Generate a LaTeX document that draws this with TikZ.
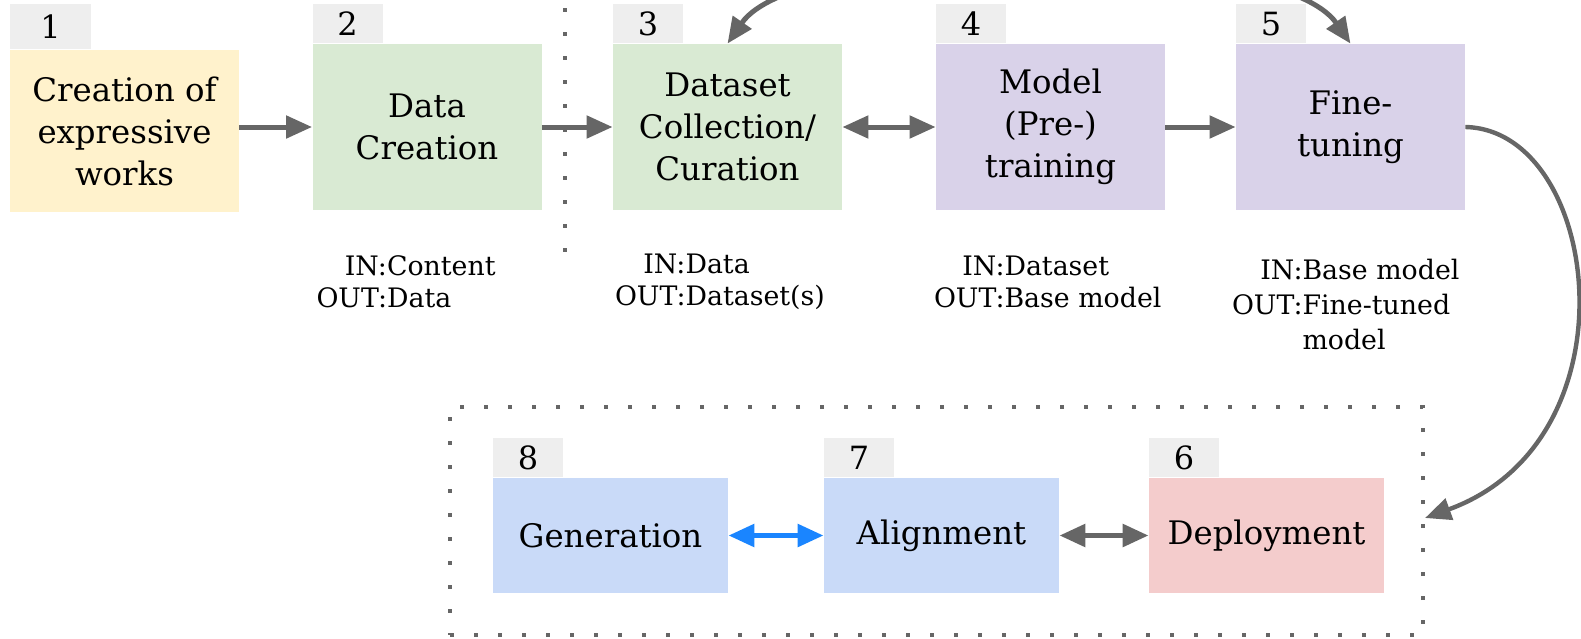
\documentclass[tikz,border=0pt]{standalone}
\usepackage{fontspec}
\setmainfont{DejaVu Serif}
\usetikzlibrary{arrows.meta}

\definecolor{cyellow}{HTML}{FFF2CC}
\definecolor{cgreen}{HTML}{D9EAD3}
\definecolor{cpurple}{HTML}{D9D2E9}
\definecolor{cblue}{HTML}{C9DAF8}
\definecolor{cred}{HTML}{F4CCCC}
\definecolor{ctab}{HTML}{EEEEEE}
\definecolor{cgray}{HTML}{666666}
\definecolor{cbright}{HTML}{1A85FF}

\begin{document}
\begin{tikzpicture}[x=0.5pt, y=-0.5pt,
    stagebox/.style={inner sep=0pt, minimum width=114.5pt, minimum height=83pt, align=center, font=\fontsize{16.2}{21}\selectfont},
    lowbox/.style={stagebox, minimum width=117.5pt, minimum height=57.5pt},
    numtab/.style={fill=ctab, inner sep=0pt, minimum width=35pt, minimum height=19.5pt, anchor=south west, font=\fontsize{16}{19}\selectfont},
    iotext/.style={inner sep=0pt, anchor=north west, font=\fontsize{13.4}{16}\selectfont},
    tip/.tip={Triangle[length=13pt, width=11pt]},
    flow/.style={color=cgray, line width=2.5pt, -tip},
    dotline/.style={draw=cgray, line width=2pt, dash pattern=on 2pt off 10pt}]
    \path[use as bounding box, clip] (0,0) rectangle (1581,638);

    % Upper row
    \node[stagebox, fill=cyellow, minimum height=81pt] (creation) at (124.5,131) {Creation of\\expressive\\works};
    \node[stagebox, fill=cgreen] (datacre) at (427,127) {Data\\Creation};
    \node[stagebox, fill=cgreen] (curation) at (727.5,127) {Dataset\\Collection/\\Curation};
    \node[stagebox, fill=cpurple] (pretrain) at (1050.5,127) {Model\\(Pre-)\\training};
    \node[stagebox, fill=cpurple] (finetune) at (1350.5,127) {Fine-\\tuning};

    % Number tabs
    \node[numtab, minimum width=40.5pt, minimum height=22.5pt] (t1) at (creation.north west) {1};
    \node[numtab] (t2) at (datacre.north west) {2};
    \node[numtab] (t3) at (curation.north west) {3};
    \node[numtab] (t4) at (pretrain.north west) {4};
    \node[numtab] (t5) at (finetune.north west) {5};

    % Inputs and outputs
    \node[iotext] (io2) at ([xshift=2pt, yshift=-21pt]datacre.south west)
        {\begin{tabular}{@{}r@{}l@{}}IN:&Content\\OUT:&Data\end{tabular}};
    \node[iotext] (io3) at ([xshift=1pt, yshift=-20pt]curation.south west)
        {\begin{tabular}{@{}r@{}l@{}}IN:&Data\\OUT:&Dataset(s)\end{tabular}};
    \node[iotext] (io4) at ([xshift=-1pt, yshift=-21pt]pretrain.south west)
        {\begin{tabular}{@{}r@{}l@{}}IN:&Dataset\\OUT:&Base model\end{tabular}};
    \node[iotext, font=\fontsize{13.4}{17.5}\selectfont] (io5) at ([xshift=-2pt, yshift=-22pt]finetune.south west)
        {\begin{tabular}{@{}r@{}l@{}}IN:&Base model\\OUT:&Fine-tuned\\&model\end{tabular}};

    % Separator
    \draw[dotline] (565,8) -- (565,252);

    % Lower group
    \node[dotline, minimum width=486.5pt, minimum height=114pt] (group) at (936.5,521) {};
    \node[lowbox, fill=cblue] (gen) at (610.5,535.5) {Generation};
    \node[lowbox, fill=cblue] (align) at (941.5,535.5) {Alignment};
    \node[lowbox, fill=cred] (deploy) at (1266.5,535.5) {Deployment};
    \node[numtab] (t8) at (gen.north west) {8};
    \node[numtab] (t7) at (align.north west) {7};
    \node[numtab] (t6) at (deploy.north west) {6};

    % Arrows
    \draw[flow] (creation.east |- datacre) -- (datacre);
    \draw[flow] (datacre) -- (curation);
    \draw[flow, tip-tip] (curation) -- (pretrain);
    \draw[flow] (pretrain) -- (finetune);
    \draw[flow, tip-tip] (curation.north) .. controls +(72,-104) and +(-72,-104) .. (finetune.north);
    \draw[flow, line width=2.2pt] (finetune.east) .. controls +(135,3) and (1640,440) .. ([yshift=1.5pt]group.east);
    \draw[flow, tip-tip, color=cbright, line width=2.8pt] (gen) -- (align);
    \draw[flow, tip-tip, line width=2.8pt] (align) -- (deploy);
\end{tikzpicture}
\end{document}
